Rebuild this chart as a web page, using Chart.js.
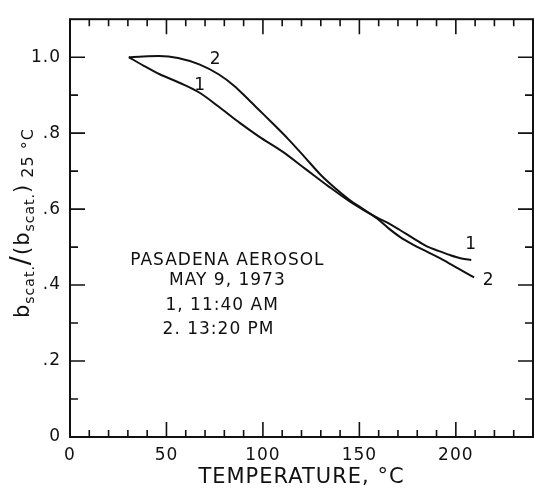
<!DOCTYPE html>
<html>
<head>
<meta charset="utf-8">
<script src="https://cdn.jsdelivr.net/npm/chart.js@4.4.0/dist/chart.umd.min.js"></script>
<style>
  html, body { margin: 0; padding: 0; background: #fff; }
  canvas { display: block; }
</style>
</head>
<body>
<canvas id="scatChart" width="534" height="488"></canvas>
<script>
// curve 1 (11:40 AM) - temperature in degC and normalised b_scat
const tempRun1 = [30.5, 38, 46.5, 57, 67, 77, 88, 98, 110, 122, 134, 145, 152, 159, 165, 171, 178, 185, 191, 197, 203, 208];
const ratioRun1 = [1.0, 0.978, 0.955, 0.932, 0.907, 0.870, 0.827, 0.791, 0.752, 0.706, 0.660, 0.620, 0.598, 0.578, 0.563, 0.545, 0.523, 0.502, 0.490, 0.479, 0.470, 0.466];

// curve 2 (13:20 PM)
const tempRun2 = [30.5, 38, 46, 56, 67, 77, 85, 92, 98, 105, 113, 122, 130, 138, 145, 152, 159, 165, 171, 178, 185, 192, 199, 205, 209.5];
const ratioRun2 = [1.0, 1.002, 1.003, 0.998, 0.981, 0.955, 0.925, 0.891, 0.861, 0.826, 0.785, 0.735, 0.690, 0.653, 0.624, 0.600, 0.576, 0.550, 0.527, 0.506, 0.488, 0.470, 0.450, 0.433, 0.420];

// axis ticks
const xTickValues = [0, 50, 100, 150, 200];
const xMarkValues = [10, 20, 30, 40, 50, 60, 70, 80, 90, 100, 110, 120, 130, 140, 150, 160, 170, 180, 190, 200, 210, 220, 230];
const yTickValues = [0, 0.2, 0.4, 0.6, 0.8, 1.0];
const yTickLabels = ['0', '.2', '.4', '.6', '.8', '1.0'];
const yMarkValues = [0.1, 0.2, 0.3, 0.4, 0.5, 0.6, 0.7, 0.8, 0.9, 1.0];

const noteLines = ['PASADENA AEROSOL', 'MAY 9, 1973', '1, 11:40 AM', '2. 13:20 PM'];

const FONT = "'DejaVu Sans', sans-serif";
const INK = '#111';

function toPoints(xs, ys) {
    return xs.map((t, i) => ({ x: t, y: ys[i] }));
}

// frame, inward tick marks, y title with subscripts, notes
const decorations = {
    id: 'decorations',
    beforeDraw(chart) {
        chart.ctx.letterSpacing = '1px';
    },
    afterDraw(chart) {
        const { ctx, chartArea: a, scales: { x, y } } = chart;
        ctx.save();
        ctx.strokeStyle = INK;
        ctx.lineWidth = 2;
        ctx.strokeRect(a.left, a.top, a.right - a.left, a.bottom - a.top);

        ctx.lineWidth = 1.6;
        ctx.beginPath();
        xMarkValues.forEach(t => {
            const px = x.getPixelForValue(t);
            const len = t % 50 === 0 ? 15 : 7;
            ctx.moveTo(px, a.bottom); ctx.lineTo(px, a.bottom - len);
            ctx.moveTo(px, a.top); ctx.lineTo(px, a.top + len);
        });
        yMarkValues.forEach(v => {
            const py = y.getPixelForValue(v);
            const major = Math.round(v * 10) % 2 === 0;
            const len = major ? 15 : 8;
            ctx.moveTo(a.left, py); ctx.lineTo(a.left + len, py);
            ctx.moveTo(a.right, py); ctx.lineTo(a.right - len, py);
        });
        ctx.stroke();

        ctx.fillStyle = INK;
        ctx.letterSpacing = '1px';

        // notes block
        ctx.font = '17px ' + FONT;
        ctx.textBaseline = 'middle';
        ctx.textAlign = 'center';
        ctx.fillText(noteLines[0], x.getPixelForValue(81.6), y.getPixelForValue(0.464));
        ctx.fillText(noteLines[1], x.getPixelForValue(81.6), y.getPixelForValue(0.412));
        ctx.textAlign = 'left';
        ctx.fillText(noteLines[2], x.getPixelForValue(49.5), y.getPixelForValue(0.347));
        ctx.fillText(noteLines[3], x.getPixelForValue(48), y.getPixelForValue(0.282));

        // curve labels
        ctx.textAlign = 'center';
        ctx.fillText('2', x.getPixelForValue(75.5), y.getPixelForValue(0.995));
        ctx.fillText('1', x.getPixelForValue(67.5), y.getPixelForValue(0.925));
        ctx.fillText('1', x.getPixelForValue(208), y.getPixelForValue(0.506));
        ctx.fillText('2', x.getPixelForValue(217), y.getPixelForValue(0.412));

        // y title: b_scat./(b_scat.)_25 °C, rotated
        const parts = [
            { text: 'b', size: 21, shift: 0 },
            { text: 'scat.', size: 14, shift: 5 },
            { text: '/', size: 27, shift: 0 },
            { text: '(b', size: 21, shift: 0 },
            { text: 'scat.', size: 14, shift: 5 },
            { text: ')', size: 21, shift: 0 },
            { text: ' 25 °C', size: 16, shift: 4 }
        ];
        ctx.translate(29, 318);
        ctx.rotate(-Math.PI / 2);
        ctx.textAlign = 'left';
        ctx.textBaseline = 'alphabetic';
        let pos = 0;
        parts.forEach(p => {
            ctx.font = p.size + 'px ' + FONT;
            ctx.fillText(p.text, pos, p.shift);
            pos += ctx.measureText(p.text).width;
        });
        ctx.restore();
    }
};

Chart.defaults.color = INK;
Chart.defaults.font.family = FONT;

new Chart(document.getElementById('scatChart'), {
    type: 'scatter',
    data: {
        datasets: [
            {
                label: '1. 11:40 AM',
                data: toPoints(tempRun1, ratioRun1),
                showLine: true,
                borderColor: INK,
                borderWidth: 2,
                pointRadius: 0,
                cubicInterpolationMode: 'monotone'
            },
            {
                label: '2. 13:20 PM',
                data: toPoints(tempRun2, ratioRun2),
                showLine: true,
                borderColor: INK,
                borderWidth: 2,
                pointRadius: 0,
                cubicInterpolationMode: 'monotone'
            }
        ]
    },
    options: {
        responsive: false,
        animation: false,
        devicePixelRatio: 1,
        layout: { padding: { top: 13, right: 1, left: 0, bottom: 0 } },
        plugins: {
            legend: { display: false },
            tooltip: { enabled: false }
        },
        scales: {
            x: {
                type: 'linear',
                min: 0,
                max: 240,
                grid: { display: false, drawTicks: false },
                border: { display: false },
                afterBuildTicks: scale => {
                    scale.ticks = xTickValues.map(v => ({ value: v }));
                },
                afterFit: scale => { scale.height = 51; },
                ticks: {
                    font: { size: 17 },
                    padding: 8,
                    maxRotation: 0
                },
                title: {
                    display: true,
                    text: 'TEMPERATURE, °C',
                    font: { size: 21, lineHeight: 1 },
                    padding: 0
                }
            },
            y: {
                type: 'linear',
                min: 0,
                max: 1.1,
                grid: { display: false, drawTicks: false },
                border: { display: false },
                afterBuildTicks: scale => {
                    scale.ticks = yTickValues.map(v => ({ value: v }));
                },
                afterFit: scale => { scale.width = 70; },
                ticks: {
                    font: { size: 17 },
                    padding: 9,
                    callback: (value, index) => yTickLabels[index]
                }
            }
        }
    },
    plugins: [decorations]
});
</script>
</body>
</html>
